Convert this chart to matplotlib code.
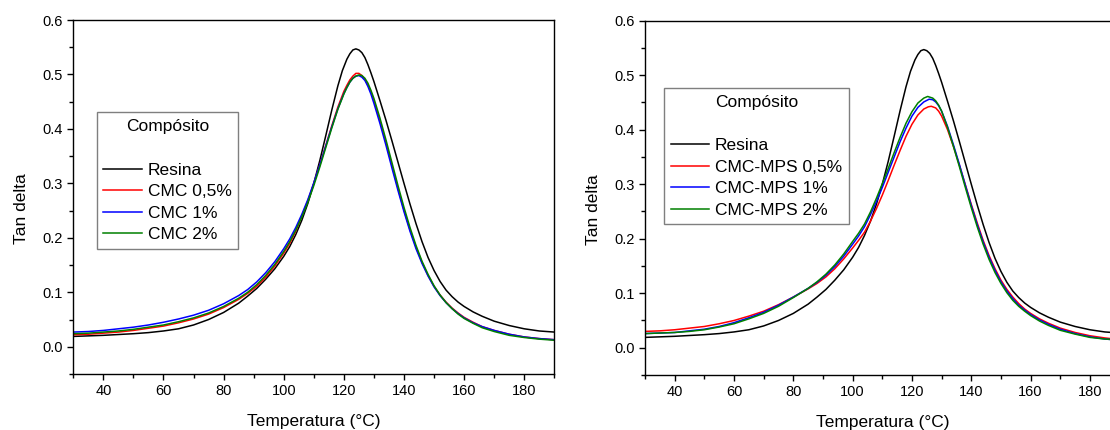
import matplotlib
matplotlib.use("Agg")
import matplotlib.pyplot as plt
from matplotlib.ticker import MultipleLocator, FormatStrFormatter

plt.rcParams['font.family'] = ['Liberation Sans', 'DejaVu Sans']

# ---------------- data ----------------
# Resina (same reference curve in both panels)
resina_T = [30, 35, 40, 45, 50, 55, 60, 65, 70, 75, 80, 85, 88, 91, 94, 97, 100, 102, 104, 106, 108,
            110, 112, 114, 116, 118, 119.5, 121, 122, 123, 124, 125, 126, 127, 128, 129, 130, 132,
            134, 136, 138, 140, 142, 144, 146, 148, 150, 152, 154, 156, 158, 160, 163, 166, 170,
            175, 180, 185, 190]
resina_v = [0.019, 0.020, 0.021, 0.0225, 0.024, 0.026, 0.029, 0.033, 0.040, 0.050, 0.063, 0.080,
            0.093, 0.107, 0.124, 0.143, 0.166, 0.184, 0.206, 0.232, 0.263, 0.300, 0.342, 0.388,
            0.435, 0.479, 0.507, 0.528, 0.538, 0.545, 0.547, 0.545, 0.540, 0.531, 0.518, 0.503,
            0.487, 0.452, 0.416, 0.378, 0.339, 0.300, 0.262, 0.226, 0.193, 0.164, 0.140, 0.120,
            0.104, 0.092, 0.082, 0.074, 0.064, 0.056, 0.047, 0.039, 0.033, 0.029, 0.027]

# Left panel: CMC
cmc05_T = [30, 35, 40, 45, 50, 55, 60, 65, 70, 75, 80, 85, 88, 91, 94, 97, 100, 102, 104, 106, 108,
           110, 112, 114, 116, 118, 120, 121, 122, 123, 124, 125, 126, 127, 128, 129, 130, 132, 134,
           136, 138, 140, 142, 144, 146, 148, 150, 152, 154, 156, 158, 160, 163, 166, 170, 175,
           180, 185, 190]
cmc05_v = [0.022, 0.023, 0.025, 0.027, 0.030, 0.034, 0.038, 0.044, 0.051, 0.060, 0.072, 0.087,
           0.098, 0.111, 0.128, 0.148, 0.172, 0.190, 0.212, 0.240, 0.268, 0.300, 0.334, 0.370,
           0.406, 0.440, 0.469, 0.480, 0.490, 0.497, 0.502, 0.502, 0.498, 0.491, 0.481, 0.468,
           0.452, 0.415, 0.375, 0.333, 0.291, 0.251, 0.215, 0.183, 0.155, 0.131, 0.111, 0.095,
           0.082, 0.071, 0.062, 0.054, 0.045, 0.037, 0.030, 0.023, 0.018, 0.015, 0.013]

cmc1_T = [30, 35, 40, 45, 50, 55, 60, 65, 70, 75, 80, 85, 88, 91, 94, 97, 100, 102, 104, 106, 108,
          110, 112, 114, 116, 118, 120, 121, 122, 123, 124, 125, 126, 127, 128, 129, 130, 132, 134,
          136, 138, 140, 142, 144, 146, 148, 150, 152, 154, 156, 158, 160, 163, 166, 170, 175,
          180, 185, 190]
cmc1_v = [0.027, 0.028, 0.030, 0.033, 0.036, 0.040, 0.045, 0.051, 0.058, 0.067, 0.079, 0.094,
          0.105, 0.119, 0.136, 0.156, 0.180, 0.198, 0.219, 0.243, 0.270, 0.301, 0.334, 0.369,
          0.404, 0.437, 0.465, 0.476, 0.486, 0.493, 0.497, 0.498, 0.495, 0.489, 0.478, 0.464,
          0.447, 0.410, 0.370, 0.328, 0.287, 0.248, 0.212, 0.180, 0.153, 0.130, 0.110, 0.094,
          0.081, 0.070, 0.061, 0.053, 0.044, 0.037, 0.030, 0.023, 0.018, 0.015, 0.013]

cmc2_T = [30, 35, 40, 45, 50, 55, 60, 65, 70, 75, 80, 85, 88, 91, 94, 97, 100, 102, 104, 106, 108,
          110, 112, 114, 116, 118, 120, 121, 122, 123, 124, 125, 126, 127, 128, 129, 130, 132, 134,
          136, 138, 140, 142, 144, 146, 148, 150, 152, 154, 156, 158, 160, 163, 166, 170, 175,
          180, 185, 190]
cmc2_v = [0.024, 0.025, 0.027, 0.029, 0.032, 0.036, 0.040, 0.046, 0.053, 0.062, 0.074, 0.089,
          0.100, 0.114, 0.131, 0.151, 0.175, 0.193, 0.214, 0.238, 0.265, 0.296, 0.330, 0.366,
          0.402, 0.436, 0.464, 0.476, 0.486, 0.493, 0.497, 0.499, 0.498, 0.493, 0.484, 0.471,
          0.456, 0.420, 0.380, 0.338, 0.296, 0.256, 0.219, 0.186, 0.157, 0.133, 0.112, 0.095,
          0.081, 0.070, 0.060, 0.052, 0.043, 0.035, 0.028, 0.021, 0.017, 0.014, 0.012]

# Right panel: CMC-MPS
mps05_T = [30, 35, 40, 45, 50, 55, 60, 65, 70, 75, 80, 85, 88, 91, 94, 97, 100, 102, 104, 106, 108,
           110, 112, 114, 116, 118, 120, 122, 124, 125.5, 126.5, 128, 129, 130, 132, 134, 136, 138,
           140, 142, 144, 146, 148, 150, 152, 154, 156, 158, 160, 163, 166, 170, 175, 180, 185, 190]
mps05_v = [0.030, 0.031, 0.033, 0.036, 0.039, 0.044, 0.050, 0.058, 0.067, 0.079, 0.093, 0.108,
           0.118, 0.130, 0.145, 0.163, 0.183, 0.197, 0.212, 0.232, 0.255, 0.280, 0.307, 0.335,
           0.362, 0.388, 0.410, 0.427, 0.438, 0.442, 0.443, 0.440, 0.434, 0.425, 0.400, 0.369,
           0.335, 0.299, 0.263, 0.229, 0.197, 0.169, 0.145, 0.124, 0.107, 0.093, 0.081, 0.071,
           0.063, 0.053, 0.045, 0.036, 0.028, 0.022, 0.018, 0.015]

mps1_T = [30, 35, 40, 45, 50, 55, 60, 65, 70, 75, 80, 85, 88, 91, 94, 97, 100, 102, 104, 106, 108,
          110, 112, 114, 116, 118, 120, 122, 124, 125.8, 127, 128, 129, 130, 132, 134, 136, 138,
          140, 142, 144, 146, 148, 150, 152, 154, 156, 158, 160, 163, 166, 170, 175, 180, 185, 190]
mps1_v = [0.026, 0.027, 0.028, 0.031, 0.034, 0.039, 0.046, 0.055, 0.065, 0.078, 0.093, 0.109,
          0.120, 0.133, 0.149, 0.168, 0.190, 0.205, 0.222, 0.244, 0.268, 0.294, 0.322, 0.350,
          0.378, 0.403, 0.425, 0.441, 0.451, 0.456, 0.455, 0.451, 0.444, 0.434, 0.406, 0.372,
          0.336, 0.298, 0.261, 0.226, 0.194, 0.166, 0.142, 0.121, 0.104, 0.090, 0.078, 0.069,
          0.061, 0.051, 0.043, 0.034, 0.026, 0.020, 0.016, 0.014]

mps2_T = [30, 35, 40, 45, 50, 55, 60, 65, 70, 75, 80, 85, 88, 91, 94, 97, 100, 102, 104, 106, 108,
          110, 112, 114, 116, 118, 120, 122, 124, 125.3, 127, 128, 129, 130, 132, 134, 136, 138,
          140, 142, 144, 146, 148, 150, 152, 154, 156, 158, 160, 163, 166, 170, 175, 180, 185, 190]
mps2_v = [0.026, 0.027, 0.028, 0.030, 0.033, 0.038, 0.044, 0.053, 0.063, 0.076, 0.092, 0.109,
          0.121, 0.135, 0.152, 0.172, 0.195, 0.210, 0.227, 0.249, 0.274, 0.301, 0.329, 0.358,
          0.386, 0.412, 0.433, 0.449, 0.458, 0.461, 0.458, 0.453, 0.445, 0.434, 0.404, 0.369,
          0.332, 0.294, 0.257, 0.222, 0.190, 0.162, 0.138, 0.118, 0.101, 0.087, 0.076, 0.067,
          0.059, 0.049, 0.041, 0.032, 0.025, 0.019, 0.016, 0.014]

left_labels = ["Resina", "CMC 0,5%", "CMC 1%", "CMC 2%"]
right_labels = ["Resina", "CMC-MPS 0,5%", "CMC-MPS 1%", "CMC-MPS 2%"]
colors = ["#000000", "#ff0000", "#0000ff", "#008000"]
legend_title = "Compósito"
xlabel = "Temperatura (°C)"
ylabel = "Tan delta"

# ---------------- figure ----------------
W, H = 1110, 430
fig = plt.figure(figsize=(W / 100, H / 100), dpi=100)

ax1 = fig.add_axes([73.3 / W, (H - 374) / H, 481 / W, 354 / H])
ax2 = fig.add_axes([645 / W, (H - 375) / H, 474.6 / W, 354.3 / H])

left_series = [(resina_T, resina_v), (cmc05_T, cmc05_v), (cmc1_T, cmc1_v), (cmc2_T, cmc2_v)]
right_series = [(resina_T, resina_v), (mps05_T, mps05_v), (mps1_T, mps1_v), (mps2_T, mps2_v)]


def style(ax, series, labels, leg_anchor, ylab_x):
    handles = []
    for (T, v), c, lab in zip(series, colors, labels):
        h, = ax.plot(T, v, color=c, lw=1.1, label=lab, solid_joinstyle='round')
        handles.append(h)
    ax.set_xlim(30, 190)
    ax.set_ylim(-0.05, 0.6)
    ax.xaxis.set_minor_locator(MultipleLocator(10))
    ax.yaxis.set_minor_locator(MultipleLocator(0.05))
    ax.set_xticks([40, 60, 80, 100, 120, 140, 160, 180])
    ax.set_yticks([0.0, 0.1, 0.2, 0.3, 0.4, 0.5, 0.6])
    ax.yaxis.set_major_formatter(FormatStrFormatter('%.1f'))
    ax.tick_params(which='major', direction='out', length=4.3, width=1.0,
                   labelsize=10.5, pad=3, top=False, right=False)
    ax.tick_params(which='minor', direction='out', length=2.6, width=1.0,
                   top=False, right=False)
    for s in ax.spines.values():
        s.set_linewidth(1.0)
    ax.set_xlabel(xlabel, fontsize=12.5)
    ax.set_ylabel(ylabel, fontsize=12.5)
    ax.xaxis.set_label_coords(0.5, -0.112)
    ax.yaxis.set_label_coords(ylab_x, 0.466)
    leg = ax.legend(handles=handles, title=legend_title + "\n", loc='upper left',
                    bbox_to_anchor=leg_anchor, borderaxespad=0, fontsize=12.5,
                    title_fontsize=12.5, frameon=True, fancybox=False, framealpha=1,
                    edgecolor='#7f7f7f', handlelength=2.2, handletextpad=0.36,
                    borderpad=0.38, labelspacing=0.36)
    leg.get_title().set_linespacing(1.62)
    leg.get_frame().set_linewidth(1.0)


style(ax1, left_series, left_labels, (0.049, 0.739), -0.092)
style(ax2, right_series, right_labels, (0.040, 0.810), -0.092)

fig.savefig("out.png", dpi=100)
